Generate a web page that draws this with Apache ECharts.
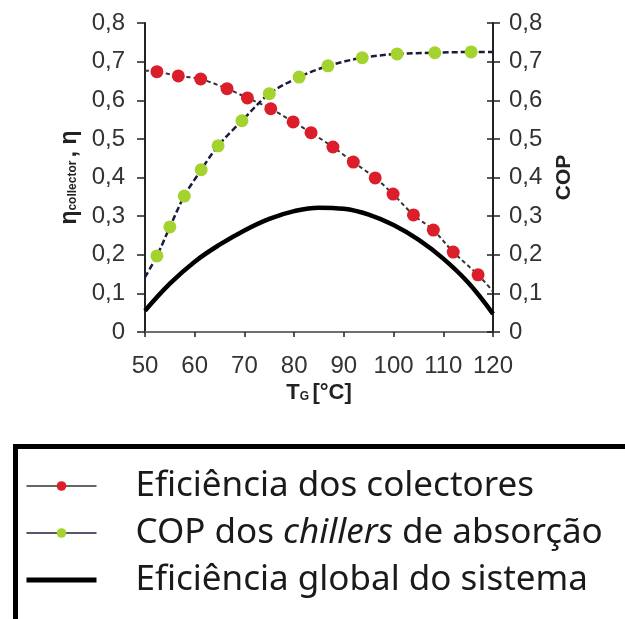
<!DOCTYPE html>
<html>
<head>
<meta charset="utf-8">
<script src="https://cdn.jsdelivr.net/npm/echarts@6/dist/echarts.min.js"></script>
<style>
html, body { margin: 0; padding: 0; background: #fff; }
#main { width: 625px; height: 619px; }
</style>
</head>
<body>
<div id="main"></div>
<script>
var myChart = echarts.init(document.getElementById('main'));

// eficiencia dos colectores
const colT = [52.4, 56.7, 61.2, 66.5, 70.6, 75.3, 79.8, 83.4, 87.8, 91.9, 96.3, 99.9, 104.0, 108.0, 112.0, 117.0];
const colEff = [0.674, 0.663, 0.655, 0.630, 0.606, 0.578, 0.544, 0.516, 0.479, 0.440, 0.399, 0.357, 0.303, 0.264, 0.207, 0.148];
const colStart = [50, 0.677], colEnd = [120, 0.105];

// COP dos chillers
const copT = [52.4, 55.0, 57.9, 61.3, 64.7, 69.5, 75.0, 81.0, 86.8, 93.7, 100.7, 108.3, 115.6];
const copVal = [0.197, 0.272, 0.352, 0.420, 0.482, 0.547, 0.617, 0.660, 0.689, 0.710, 0.720, 0.723, 0.725];
const copStart = [50, 0.142], copEnd = [120, 0.725];

// eficiencia global
const globT = [50, 55, 60, 65, 70, 75, 80, 85, 90, 95, 100, 105, 110, 115, 120];
const globEff = [0.055, 0.125, 0.182, 0.226, 0.263, 0.293, 0.313, 0.322, 0.319, 0.304, 0.277, 0.239, 0.190, 0.128, 0.047];

const seriesNames = ['Eficiência dos colectores', 'COP dos chillers de absorção', 'Eficiência global do sistema'];

function withEnds(start, xs, ys, end) {
	var d = [{ value: start, symbol: 'none' }];
	xs.forEach(function (x, i) { d.push([x, ys[i]]); });
	d.push({ value: end, symbol: 'none' });
	return d;
}

var labelFont = "Arial, sans-serif";
var fmt = function (v) { return v === 0 ? '0' : v.toFixed(1).replace('.', ','); };

myChart.setOption({
	backgroundColor: '#fff',
	animation: false,
	grid: { left: 145, right: 132, top: 23, bottom: 287 },
	xAxis: [{
		type: 'value', min: 50, max: 120, interval: 10,
		axisLine: { lineStyle: { color: '#222', width: 2 } },
		axisTick: { length: 5, lineStyle: { color: '#222', width: 1.5 } },
		splitLine: { show: false },
		axisLabel: { color: '#333', fontSize: 24, fontFamily: labelFont, margin: 22 },
		name: '{t|T}{s|G} {t|[°C]}',
		nameLocation: 'middle', nameGap: 50,
		nameTextStyle: {
			rich: {
				t: { fontSize: 22, fontWeight: 'bold', fontFamily: 'Arial', color: '#222' },
				s: { fontSize: 12, fontWeight: 'bold', fontFamily: 'Arial', color: '#222', padding: [8, 0, 0, 0] }
			}
		}
	}, {
		type: 'value', min: 50, max: 120, position: 'top',
		axisLine: { lineStyle: { color: '#888', width: 1.5 } },
		axisTick: { show: false }, axisLabel: { show: false }, splitLine: { show: false }
	}],
	yAxis: [{
		type: 'value', min: 0, max: 0.8, interval: 0.1, position: 'left',
		axisLine: { show: true, lineStyle: { color: '#222', width: 2 } },
		axisTick: { show: true, length: 8, lineStyle: { color: '#222', width: 1.5 } },
		splitLine: { show: false },
		axisLabel: { color: '#333', fontSize: 24, fontFamily: labelFont, margin: 20, formatter: fmt },
		name: '{e|η}{s|collector} {e|, η}',
		nameLocation: 'middle', nameRotate: 90, nameGap: 60,
		nameTextStyle: {
			rich: {
				e: { fontSize: 23, fontWeight: 'bold', fontFamily: 'Arial', color: '#222' },
				s: { fontSize: 12, fontWeight: 'bold', fontFamily: 'Arial', color: '#222', padding: [6, 0, 0, 0] }
			}
		}
	}, {
		type: 'value', min: 0, max: 0.8, interval: 0.1, position: 'right',
		axisLine: { show: true, lineStyle: { color: '#222', width: 2 } },
		axisTick: { show: true, length: 7, lineStyle: { color: '#222', width: 1.5 } },
		splitLine: { show: false },
		axisLabel: { color: '#333', fontSize: 24, fontFamily: labelFont, margin: 16, formatter: fmt },
		name: 'COP',
		nameLocation: 'middle', nameRotate: 90, nameGap: 60,
		nameTextStyle: { fontSize: 21, fontWeight: 'bold', fontFamily: 'Arial', color: '#222' }
	}, {
		type: 'value', min: 0, max: 0.8, interval: 0.1, position: 'right',
		axisLine: { show: false },
		axisTick: { show: true, inside: true, length: 6, lineStyle: { color: '#222', width: 1.5 } },
		axisLabel: { show: false }, splitLine: { show: false }
	}],
	legend: {
		orient: 'vertical', left: 19, top: 463,
		itemWidth: 70, itemHeight: 12, itemGap: 11,
		selectedMode: false,
		textStyle: {
			fontSize: 35, fontFamily: "'Noto Sans', 'Open Sans', sans-serif", color: '#1a1a1a',
			lineHeight: 36, padding: [0, 0, 0, 34],
			rich: { i: { fontSize: 35, fontStyle: 'italic', fontFamily: "'Noto Sans', sans-serif", color: '#1a1a1a' } }
		},
		formatter: function (n) { return n.replace('chillers', '{i|chillers}'); },
		data: [
			{ name: seriesNames[0], lineStyle: { type: 'solid', width: 1.5 } },
			{ name: seriesNames[1], lineStyle: { type: 'solid', width: 1.5 } },
			{ name: seriesNames[2], lineStyle: { width: 5 }, itemStyle: { opacity: 0 } }
		]
	},
	graphic: [{
		type: 'rect', left: 13, top: 444,
		shape: { width: 700, height: 178 },
		style: { fill: 'none', stroke: '#000', lineWidth: 5 }
	}],
	series: [{
		name: seriesNames[2], type: 'line', smooth: 0.4, symbol: 'none',
		lineStyle: { color: '#000', width: 4.5 },
		itemStyle: { color: '#000' },
		data: globT.map(function (t, i) { return [t, globEff[i]]; })
	}, {
		name: seriesNames[0], type: 'line', smooth: 0.3,
		symbol: 'circle', symbolSize: 13,
		lineStyle: { color: '#333', width: 2, type: [4, 3] },
		itemStyle: { color: '#dc1e2b' },
		data: withEnds(colStart, colT, colEff, colEnd)
	}, {
		name: seriesNames[1], type: 'line', smooth: 0.3,
		symbol: 'circle', symbolSize: 13,
		lineStyle: { color: '#1c1c3a', width: 2.5, type: [6, 3] },
		itemStyle: { color: '#a4d22e' },
		data: withEnds(copStart, copT, copVal, copEnd)
	}]
});
</script>
</body>
</html>
